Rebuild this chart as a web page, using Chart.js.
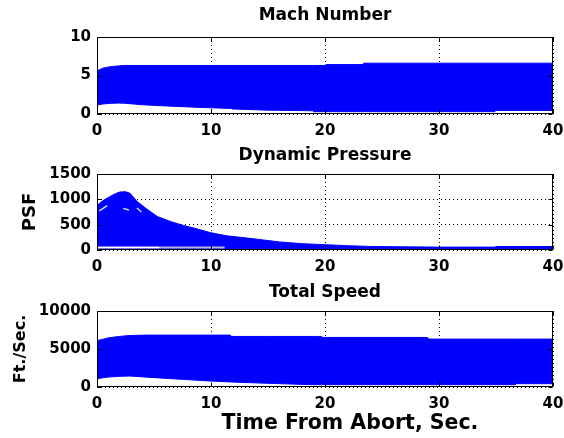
<!DOCTYPE html>
<html>
<head>
<meta charset="utf-8">
<script src="https://cdn.jsdelivr.net/npm/chart.js@4.4.1/dist/chart.umd.min.js"></script>
<style>
  html, body { margin: 0; padding: 0; background: #fff; }
  #wrap { position: relative; width: 564px; height: 438px; background: #fff; }
  .panel { position: absolute; left: 0; width: 564px; }
</style>
</head>
<body>
<div id="wrap">
  <div class="panel" style="top:0px;height:140px"><canvas id="c1"></canvas></div>
  <div class="panel" style="top:140px;height:135px"><canvas id="c2"></canvas></div>
  <div class="panel" style="top:275px;height:163px"><canvas id="c3"></canvas></div>
</div>
<script>
// ---------------- data ----------------
const xTicks = [0, 10, 20, 30, 40];

const machTicks = [0, 5, 10];
const machTime  = [0,    0.5,  1.2,  1.9,  2.4,  4,    6,    8,    10,   11.8, 11.9, 15,   18.9, 19,   20,   20.1, 23.3, 23.4, 34.9, 35,   40];
const machUpper = [5.6,  5.95, 6.15, 6.25, 6.3,  6.3,  6.3,  6.3,  6.3,  6.3,  6.3,  6.3,  6.3,  6.3,  6.3,  6.42, 6.42, 6.6,  6.6,  6.6,  6.6];
const machLower = [1.16, 1.3,  1.38, 1.42, 1.4,  1.2,  1.05, 0.92, 0.8,  0.72, 0.65, 0.5,  0.42, 0.3,  0.3,  0.3,  0.3,  0.3,  0.3,  0.45, 0.45];

const qTicks  = [0, 500, 1000, 1500];
const qTime   = [0,   0.5, 1.1,  1.6,  2.0,  2.5,  2.9,  3.5, 4.3, 5.3, 6.5, 7.5, 8.8, 10,  11.4, 13.2, 16,  18,  20,  22, 24, 27, 30, 34.9, 35, 40];
const qUpper  = [880, 970, 1052, 1110, 1145, 1150, 1119, 960, 820, 660, 560, 490, 415, 340, 280,  235,  160, 125, 105, 85, 70, 62, 57, 57,   70, 70];
const qLower  = [0,   0,   0,    0,    0,    0,    0,    0,   0,   0,   0,   0,   0,   0,   0,    0,    0,   0,   0,   0,  0,  0,  0,  0,    0,  0];
const qDashTime = [0.2, 0.9, 1.0,  2.3, 2.8, 2.9,  3.5, 3.9];
const qDashVal  = [770, 874, null, 822, 790, null, 830, 750];
const qBaseTime  = [0, 5.5];
const qBaseVal   = [50, 50];
const qBase2Time = [5.5, 11.2];
const qBase2Val  = [50, 50];

const vTicks = [0, 5000, 10000];
const vTime  = [0,    0.95, 1.9,  2.9,  4.1,  6.6,  10,   11.7, 11.8, 15.1, 18.9, 19.7, 19.8, 29,   29.1, 36.7, 36.8, 40];
const vUpper = [6090, 6450, 6650, 6780, 6826, 6826, 6826, 6826, 6652, 6652, 6652, 6652, 6522, 6522, 6304, 6304, 6304, 6304];
const vLower = [1100, 1300, 1400, 1440, 1320, 1087, 783,  660,  652,  478,  304,  304,  304,  304,  304,  304,  435,  435];

// ---------------- helpers ----------------
const FAM = '"DejaVu Sans", sans-serif';
const BLUE = '#0000ff';
const pts = (xs, ys) => xs.map((x, i) => ({ x: x, y: ys[i] }));

const boxPlugin = {
  id: 'matlabBox',
  afterDatasetsDraw(chart) {
    const ctx = chart.ctx;
    const a = chart.chartArea;
    const xs = chart.scales.x, ys = chart.scales.y;
    const L = Math.round(a.left) + 0.5, R = Math.round(a.right) - 0.5;
    const T = Math.round(a.top) + 0.5, B = Math.round(a.bottom) - 0.5;
    ctx.save();
    ctx.strokeStyle = '#000';
    ctx.lineWidth = 1;
    ctx.beginPath();
    xs.ticks.forEach(t => {
      const px = Math.round(xs.getPixelForValue(t.value)) + 0.5;
      ctx.moveTo(px, B); ctx.lineTo(px, B - 4);
      ctx.moveTo(px, T); ctx.lineTo(px, T + 4);
    });
    ys.ticks.forEach(t => {
      const py = Math.round(ys.getPixelForValue(t.value)) + 0.5;
      ctx.moveTo(L, py); ctx.lineTo(L + 4, py);
      ctx.moveTo(R, py); ctx.lineTo(R - 4, py);
    });
    ctx.stroke();
    ctx.strokeRect(L, T, R - L, B - T);
    ctx.restore();
  }
};

function makeChart(id, cfg) {
  return new Chart(document.getElementById(id), {
    type: 'line',
    data: { datasets: cfg.datasets },
    plugins: [boxPlugin],
    options: {
      responsive: true,
      maintainAspectRatio: false,
      animation: false,
      events: [],
      layout: { padding: { left: 0, right: 11, top: 0, bottom: 0 } },
      elements: { point: { radius: 0 }, line: { tension: 0 } },
      plugins: {
        legend: { display: false },
        tooltip: { enabled: false },
        title: {
          display: true,
          text: cfg.title,
          fullSize: false,
          color: '#000',
          font: { family: FAM, size: 17, weight: 'bold', lineHeight: 1.2 },
          padding: { top: cfg.titlePadTop, bottom: cfg.titlePadBottom }
        }
      },
      scales: {
        x: {
          type: 'linear',
          min: 0, max: 40,
          afterBuildTicks: s => { s.ticks = xTicks.map(v => ({ value: v })); },
          afterFit: s => { s.height = cfg.xHeight; s.paddingLeft = 0; s.paddingRight = 0; },
          border: { display: false, dash: [1, 3] },
          grid: { color: '#000', lineWidth: 1, drawTicks: false },
          ticks: {
            color: '#000',
            padding: 8,
            autoSkip: false,
            maxRotation: 0,
            callback: v => String(v),
            font: { family: FAM, size: 15, weight: 'bold' }
          },
          title: cfg.xTitle ? {
            display: true,
            text: cfg.xTitle,
            color: '#000',
            font: { family: FAM, size: 20.5, weight: 'bold', lineHeight: 1.2 },
            padding: { top: 0, bottom: 2 }
          } : { display: false }
        },
        y: {
          type: 'linear',
          min: cfg.yTicks[0], max: cfg.yTicks[cfg.yTicks.length - 1],
          afterBuildTicks: s => { s.ticks = cfg.yTicks.map(v => ({ value: v })); },
          afterFit: s => { s.width = 97; s.paddingTop = 0; s.paddingBottom = 0; },
          border: { display: false, dash: [1, 3] },
          grid: { color: '#000', lineWidth: 1, drawTicks: false },
          ticks: {
            color: '#000',
            padding: 6,
            autoSkip: false,
            callback: v => String(v),
            font: { family: FAM, size: 15, weight: 'bold' }
          },
          title: cfg.yTitle ? {
            display: true,
            text: cfg.yTitle,
            color: '#000',
            font: { family: FAM, size: cfg.yTitleSize, weight: 'bold', lineHeight: 1.2 },
            padding: { top: cfg.yTitlePad, bottom: 0 }
          } : { display: false }
        }
      }
    }
  });
}

function band(time, lower, upper) {
  return [
    { data: pts(time, lower), borderColor: BLUE, borderWidth: 1, fill: false, order: 2 },
    { data: pts(time, upper), borderColor: BLUE, borderWidth: 1, backgroundColor: BLUE, fill: '-1', order: 1 }
  ];
}

makeChart('c1', {
  title: 'Mach Number',
  titlePadTop: 5.8, titlePadBottom: 10.8,
  xHeight: 26,
  yTicks: machTicks,
  datasets: band(machTime, machLower, machUpper)
});

const qSets = band(qTime, qLower, qUpper);
qSets.push({ data: pts(qDashTime, qDashVal), borderColor: 'rgba(225,225,255,0.95)', borderWidth: 1.5, fill: false, spanGaps: false, order: 0 });
qSets.push({ data: pts(qBaseTime, qBaseVal), borderColor: '#ffffff', borderWidth: 2, fill: false, order: 0 });
qSets.push({ data: pts(qBase2Time, qBase2Val), borderColor: '#b8b8e0', borderWidth: 2, fill: false, order: 0 });

makeChart('c2', {
  title: 'Dynamic Pressure',
  titlePadTop: 5.8, titlePadBottom: 7.8,
  xHeight: 25,
  yTicks: qTicks,
  yTitle: 'PSF', yTitleSize: 18, yTitlePad: 20,
  datasets: qSets
});

makeChart('c3', {
  title: 'Total Speed',
  titlePadTop: 7.8, titlePadBottom: 7.8,
  xHeight: 51,
  yTicks: vTicks,
  yTitle: 'Ft./Sec.', yTitleSize: 16, yTitlePad: 11.4,
  xTitle: '       Time From Abort, Sec.',
  datasets: band(vTime, vLower, vUpper)
});
</script>
</body>
</html>
